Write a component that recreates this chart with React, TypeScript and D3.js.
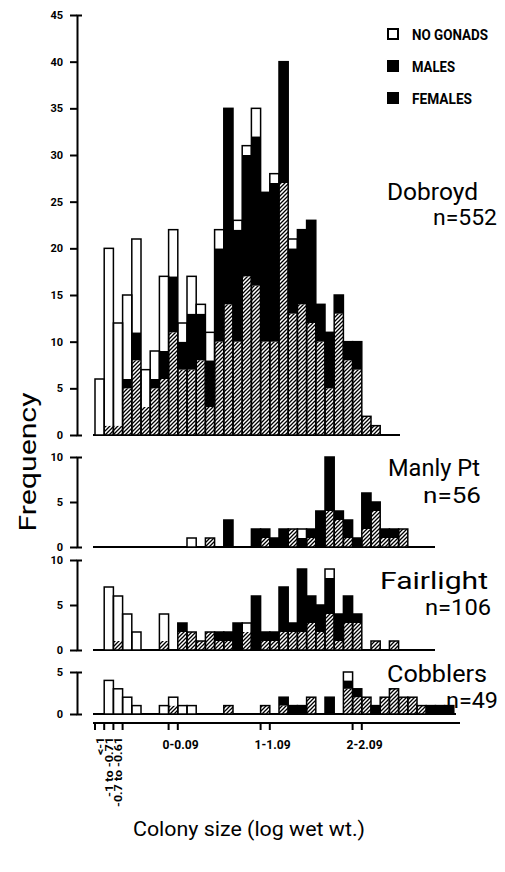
import React, { useEffect, useRef } from "react";
import * as d3 from "d3";

// size classes (log wet wt.), one per histogram bin
const bins = ["<-1", "-1 to -0.71", "-0.7 to -0.61", "-0.5", "-0.4", "-0.3", "-0.2", "-0.1",
  "0-0.09", "0.1", "0.2", "0.3", "0.4", "0.5", "0.6", "0.7", "0.8", "0.9",
  "1-1.09", "1.1", "1.2", "1.3", "1.4", "1.5", "1.6", "1.7", "1.8", "1.9",
  "2-2.09", "2.1", "2.2", "2.3", "2.4", "2.5", "2.6", "2.7", "2.8", "2.9", "3.0"];

const dobroydFemales = [0,1,1,5,8,3,5,6,11,7, 7,8,3,10,14,10,17,16,10,10, 27,13,14,12,10,5,13,8,7,2, 1,0,0,0,0,0,0,0,0];
const dobroydMales = [0,0,0,1,3,0,1,3,6,3, 6,5,5,10,21,12,13,16,16,17, 13,7,8,11,4,6,2,2,3,0, 0,0,0,0,0,0,0,0,0];
const dobroydNoGonads = [6,19,11,9,10,4,3,8,5,2, 4,1,3,2,0,1,1,3,0,1, 0,1,0,0,0,0,0,0,0,0, 0,0,0,0,0,0,0,0,0];

const manlyFemales = [0,0,0,0,0,0,0,0,0,0, 0,0,1,0,0,0,0,0,1,0, 0,2,0,1,0,4,3,1,0,2, 4,1,1,2,0,0,0,0,0];
const manlyMales = [0,0,0,0,0,0,0,0,0,0, 0,0,0,0,3,0,0,2,1,1, 2,0,1,1,4,6,1,2,1,4, 1,1,1,0,0,0,0,0,0];
const manlyNoGonads = [0,0,0,0,0,0,0,0,0,0, 1,0,0,0,0,0,0,0,0,0, 0,0,1,0,0,0,0,0,0,0, 0,0,0,0,0,0,0,0,0];

const fairlightFemales = [0,0,1,0,0,0,0,1,0,2, 2,1,2,1,1,0,2,0,1,1, 2,2,2,3,2,4,1,3,3,0, 1,0,1,0,0,0,0,0,0];
const fairlightMales = [0,0,0,0,0,0,0,0,0,1, 0,0,0,1,1,3,0,6,1,1, 5,1,7,3,3,4,3,3,1,0, 0,0,0,0,0,0,0,0,0];
const fairlightNoGonads = [0,7,5,4,2,0,0,3,0,0, 0,0,0,0,0,0,1,0,0,0, 0,0,0,0,0,1,0,0,0,0, 0,0,0,0,0,0,0,0,0];

const cobblersFemales = [0,0,0,0,0,0,0,0,1,0, 0,0,0,0,1,0,0,0,1,0, 1,0,0,2,0,0,0,3,2,2, 0,2,3,2,2,1,0,0,0];
const cobblersMales = [0,0,0,0,0,0,0,0,0,0, 0,0,0,0,0,0,0,0,0,0, 1,1,1,0,0,2,0,1,1,0, 1,0,0,0,0,0,1,1,1];
const cobblersNoGonads = [0,4,3,2,1,0,0,1,1,1, 1,0,0,0,0,0,0,0,0,0, 0,0,0,0,0,0,0,1,0,0, 0,0,0,0,0,0,0,0,0];

const sites = ["Dobroyd", "Manly Pt", "Fairlight", "Cobblers"];
const siteN = ["n=552", "n=56", "n=106", "n=49"];
const yTicksDobroyd = [0, 5, 10, 15, 20, 25, 30, 35, 40, 45];
const yTicksSmall = [0, 5, 10];
const yTicksCobblers = [0, 5];
const xTickBins = ["0-0.09", "1-1.09", "2-2.09"];
const xRotatedBins = ["<-1", "-1 to -0.71", "-0.7 to -0.61"];
const legendItems = ["NO GONADS", "MALES", "FEMALES"];

const keys = ["females", "males", "noGonads"];
const fills: any = { females: "url(#hatch)", males: "#000", noGonads: "#fff" };

export default function App() {
  const ref = useRef<SVGSVGElement>(null);

  useEffect(() => {
    const svg = d3.select(ref.current);
    svg.selectAll("*").remove();
    const font = "Roboto";

    const pat = svg.append("defs").append("pattern")
      .attr("id", "hatch").attr("patternUnits", "userSpaceOnUse")
      .attr("width", 4).attr("height", 4);
    pat.append("rect").attr("width", 4).attr("height", 4).attr("fill", "#fff");
    pat.append("path").attr("d", "M-1,1 l2,-2 M0,4 l4,-4 M3,5 l2,-2")
      .attr("stroke", "#000").attr("stroke-width", 1.3);

    const x = d3.scaleBand().domain(bins).range([95, 95 + bins.length * 9.2]).padding(0);
    const bw = x.bandwidth();

    const series = [
      [dobroydFemales, dobroydMales, dobroydNoGonads],
      [manlyFemales, manlyMales, manlyNoGonads],
      [fairlightFemales, fairlightMales, fairlightNoGonads],
      [cobblersFemales, cobblersMales, cobblersNoGonads],
    ];
    const panels = [
      { top: 15, bottom: 435, max: 45, ticks: yTicksDobroyd, baseEnd: 400, nameX: 387, nameY: 200, nameW: 91, nX: 433, nY: 225, nW: 64 },
      { top: 457, bottom: 547, max: 10, ticks: yTicksSmall, baseEnd: 435, nameX: 388, nameY: 476, nameW: 92, nX: 423, nY: 503, nW: 58 },
      { top: 560, bottom: 650, max: 10, ticks: yTicksSmall, baseEnd: 435, nameX: 380, nameY: 589, nameW: 108, nX: 425, nY: 615, nW: 66 },
      { top: 672, bottom: 714, max: 5, ticks: yTicksCobblers, baseEnd: 456, nameX: 387, nameY: 682, nameW: 100, nX: 446, nY: 708, nW: 52 },
    ];

    panels.forEach((p, k) => {
      const [f, m, w] = series[k];
      const y = d3.scaleLinear().domain([0, p.max]).range([p.bottom, p.top]);
      const rows = bins.map((b, i) => ({ bin: b, females: f[i], males: m[i], noGonads: w[i] }));
      const stacked = d3.stack().keys(keys)(rows as any);
      const g = svg.append("g");

      g.append("line")
        .attr("x1", 93).attr("x2", p.baseEnd)
        .attr("y1", y(0)).attr("y2", y(0))
        .attr("stroke", "#000").attr("stroke-width", 2);

      stacked.forEach((layer: any) => {
        g.selectAll(null)
          .data(layer.filter((d: any) => d[1] > d[0]))
          .enter().append("rect")
          .attr("x", (d: any) => x(d.data.bin))
          .attr("width", bw)
          .attr("y", (d: any) => y(d[1]))
          .attr("height", (d: any) => y(d[0]) - y(d[1]))
          .attr("fill", fills[layer.key]);
      });

      g.selectAll(null)
        .data(rows.filter((r) => r.females + r.males + r.noGonads > 0))
        .enter().append("rect")
        .attr("x", (d) => x(d.bin))
        .attr("width", bw)
        .attr("y", (d) => y(d.females + d.males + d.noGonads))
        .attr("height", (d) => y(0) - y(d.females + d.males + d.noGonads))
        .attr("fill", "none").attr("stroke", "#000").attr("stroke-width", 1.5);

      const ax = g.append("g")
        .attr("transform", "translate(77,0)")
        .call(d3.axisLeft(y).tickValues(p.ticks).tickFormat(d3.format("d"))
          .tickSize(7).tickSizeOuter(-5).tickPadding(7));
      ax.select(".domain").attr("stroke-width", 2);
      ax.selectAll(".tick line").attr("stroke-width", 2);
      ax.selectAll("text")
        .attr("font-family", font).attr("font-weight", "bold").attr("font-size", 11);

      g.append("text")
        .attr("x", p.nameX).attr("y", p.nameY)
        .attr("font-family", font).attr("font-size", 23)
        .attr("textLength", p.nameW).attr("lengthAdjust", "spacingAndGlyphs")
        .text(sites[k]);
      g.append("text")
        .attr("x", p.nX).attr("y", p.nY)
        .attr("font-family", font).attr("font-size", 22)
        .attr("textLength", p.nW).attr("lengthAdjust", "spacingAndGlyphs")
        .text(siteN[k]);
    });

    // legend
    const legendFill = ["#fff", "#000", "#000"];
    const legendW = [76, 43, 60];
    legendItems.forEach((t, i) => {
      svg.append("rect")
        .attr("x", 388).attr("y", 29 + i * 32).attr("width", 10).attr("height", 10)
        .attr("fill", legendFill[i]).attr("stroke", "#000").attr("stroke-width", 2);
      svg.append("text")
        .attr("x", 412).attr("y", 40 + i * 32)
        .attr("font-family", font).attr("font-weight", "bold").attr("font-size", 14)
        .attr("textLength", legendW[i]).attr("lengthAdjust", "spacingAndGlyphs")
        .text(t);
    });

    // x axis
    const xa = svg.append("g");
    xa.append("line")
      .attr("x1", 93).attr("x2", 460).attr("y1", 723).attr("y2", 723)
      .attr("stroke", "#000").attr("stroke-width", 2);
    const tickXs: number[] = [];
    xRotatedBins.forEach((b) => tickXs.push(x(b) as number));
    tickXs.push((x(xRotatedBins[2]) as number) + bw);
    xTickBins.forEach((b) => { tickXs.push(x(b) as number); tickXs.push((x(b) as number) + bw); });
    xa.selectAll(null).data(tickXs).enter().append("line")
      .attr("x1", (d) => d).attr("x2", (d) => d)
      .attr("y1", 723).attr("y2", 730)
      .attr("stroke", "#000").attr("stroke-width", 2);
    const rotW = [18, 60, 70];
    xRotatedBins.forEach((b, i) => {
      xa.append("text")
        .attr("transform", `translate(${(x(b) as number) + bw / 2 + 4},737) rotate(-90)`)
        .attr("text-anchor", "end")
        .attr("font-family", font).attr("font-weight", "bold").attr("font-size", 11)
        .attr("textLength", rotW[i]).attr("lengthAdjust", "spacingAndGlyphs")
        .text(b);
    });
    xTickBins.forEach((b) => {
      xa.append("text")
        .attr("x", (x(b) as number) + 12).attr("y", 749)
        .attr("text-anchor", "middle")
        .attr("font-family", font).attr("font-weight", "bold").attr("font-size", 12)
        .attr("textLength", 36).attr("lengthAdjust", "spacingAndGlyphs")
        .text(b);
    });

    svg.append("text")
      .attr("x", 249).attr("y", 836).attr("text-anchor", "middle")
      .attr("font-family", font).attr("font-size", 20)
      .attr("textLength", 232).attr("lengthAdjust", "spacingAndGlyphs")
      .text("Colony size (log wet wt.)");
    svg.append("text")
      .attr("transform", "translate(36,462) rotate(-90)")
      .attr("text-anchor", "middle")
      .attr("font-family", font).attr("font-size", 24)
      .attr("textLength", 139).attr("lengthAdjust", "spacingAndGlyphs")
      .text("Frequency");
  }, []);

  return (
    <svg ref={ref} width={505} height={872}
      style={{ position: "absolute", left: 0, top: 0, background: "#fff" }} />
  );
}
